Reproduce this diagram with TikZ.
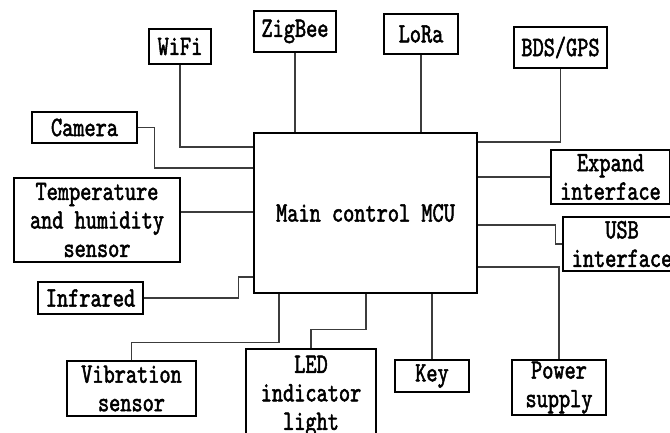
\documentclass[tikz,border=0pt]{standalone}
\usepackage{fontspec}
\newfontfamily\boxfont[FakeStretch=0.76,FakeBold=1.8]{lmmono10-regular.otf}
\usepackage{xcolor}
\definecolor{linegray}{RGB}{60, 60, 60}
\usetikzlibrary{positioning,calc}

\begin{document}
\begin{tikzpicture}[
  x=1pt, y=-1pt,
  part/.style={draw=black, line width=1.1pt, font=\boxfont\fontsize{28}{28.5}\selectfont, align=center, inner sep=0pt},
  mcubox/.style={part, line width=1.6pt},
  wire/.style={draw=linegray, line width=1.1pt}
]
\useasboundingbox (0,0) rectangle (670,432);

% main controller
\node[mcubox, minimum width=223, minimum height=160] (mcu) at (365.5,213) {Main control MCU};

% top row
\node[part, minimum width=62, minimum height=35] (wifi) at (180,46.5) {WiFi};
\node[part, minimum width=82, minimum height=41] (zigbee) at (295,31.5) {ZigBee};
\node[part, minimum width=74, minimum height=40] (lora) at (421,34) {LoRa};
\node[part, minimum width=93, minimum height=41] (bds) at (560.5,47.5) {BDS/GPS};

% left side
\node[part, minimum width=105, minimum height=31] (camera) at (84.5,127.5) {Camera};
\node[part, minimum width=166, minimum height=84] (temp) at (97,220) {Temperature\\and humidity\\sensor};
\node[part, minimum width=105, minimum height=32] (infrared) at (90.5,298) {Infrared};

% right side
\node[part, minimum width=119, minimum height=54] (expand) at (610.5,177) {Expand\\interface};
\node[part, minimum width=118, minimum height=54] (usb) at (622,244) {USB\\interface};

% bottom row
\node[part, minimum width=129, minimum height=55] (vibration) at (131.5,388.5) {Vibration\\sensor};
\node[part, minimum width=130, minimum height=94] (led) at (311,396) {LED\\indicator\\light};
\node[part, minimum width=74, minimum height=32] (key) at (432,376) {Key};
\node[part, minimum width=94, minimum height=55] (power) at (559,387.5) {Power\\supply};

\draw[wire] (wifi.south) |- (mcu.west |- 0,147);
\draw[wire] (zigbee.south) -- (zigbee.south |- mcu.north);
\draw[wire] (lora.south) -- (lora.south |- mcu.north);
\draw[wire] (bds.south) |- (mcu.east |- 0,142);
\draw[wire] (camera.east) -- ++(17,0) |- (mcu.west |- 0,168);
\draw[wire] (temp.east |- 0,212) -- (mcu.west |- 0,212);
\draw[wire] (infrared.east) -- ++(95,0) |- (mcu.west |- 0,277);
\draw[wire] (vibration.north) -- ++(0,-18) -| (mcu.south -| 279,0);
\draw[wire] (led.north) -- ++(0,-19) -| (mcu.south -| 366,0);
\draw[wire] (key.north) -- (key.north |- mcu.south);
\draw[wire] (mcu.east |- expand.west) -- (expand.west);
\draw[wire] (mcu.east |- 0,225) -- ++(78,0) |- (usb.west);
\draw[wire] (mcu.east |- 0,267) -| (power.north);
\end{tikzpicture}
\end{document}
